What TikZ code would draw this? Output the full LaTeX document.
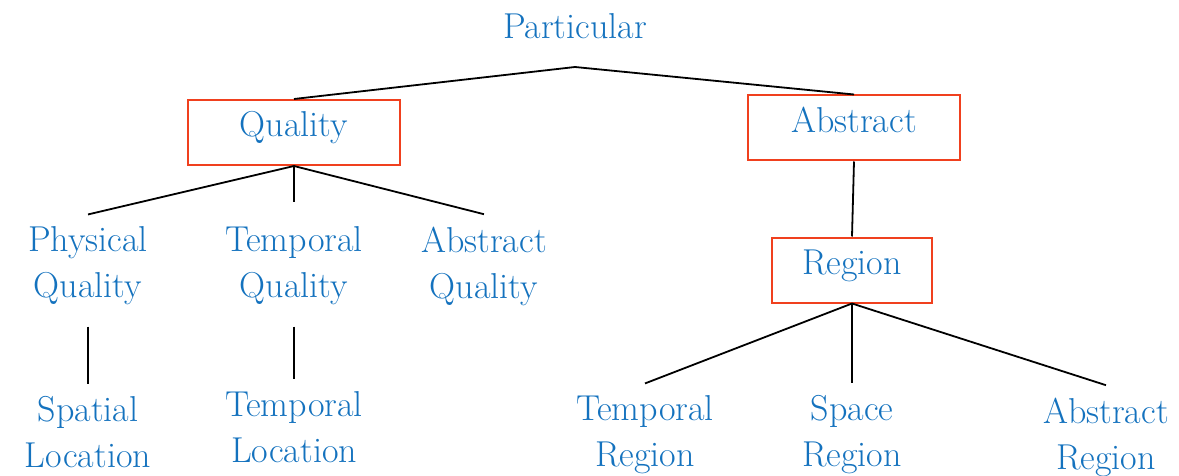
\documentclass[tikz,border=0pt]{standalone}
\usepackage{xcolor}
\usepackage{tikz}
\definecolor{termblue}{RGB}{20,114,190}
\definecolor{boxred}{RGB}{240,64,30}
\tikzset{
    Term/.style = {text=termblue, align=center, inner sep=6pt,
        font=\fontsize{18}{23}\selectfont},
    Box/.style = {Term, draw=boxred, line width=1pt, text height=12.5pt,
        text depth=8pt, minimum width=106pt, minimum height=32.5pt},
    Edge/.style = {line width=0.9pt}
}
\begin{document}
\begin{tikzpicture}[x=0.5pt,y=-0.5pt]
        \useasboundingbox (0,0) rectangle (1179,476);
        \node[Term] (P) at (575,26) {Particular};
        \coordinate (Pj) at (575,67);
        \node[Box] (Q) at (294,132.5) {Quality};
        \node[Box,minimum height=32pt] (A) at (854,128) {Abstract};
        \node[Box,minimum width=80pt,minimum height=32pt] (R) at (852,270) {Region};
        % qualities
        \node[Term] (PQ) at (88,266) {Physical\\Quality};
        \node[Term] (TQ) at (294,266) {Temporal\\Quality};
        \node[Term] (AQ) at (484,266) {Abstract\\Quality};
        \node[Term] (SL) at (88,432.5) {Spatial\\Location};
        \node[Term] (TL) at (294,427.5) {Temporal\\Location};
        % regions
        \node[Term] (TR) at (645,435) {Temporal\\Region};
        \node[Term] (SR) at (852,435) {Space\\Region};
        \node[Term] (AR) at (1106,437) {Abstract\\Region};
        \draw[Edge] (Q.north) -- (Pj) -- (A.north);
        \foreach \X in {PQ,AQ}
            {\draw[Edge] (Q.south) -- (\X.north);}
        \draw[Edge,shorten >=6pt] (Q.south) -- (TQ.north);
        \draw[Edge,shorten <=4.5pt] (PQ.south) -- (SL.north);
        \draw[Edge,shorten <=4.5pt] (TQ.south) -- (TL.north);
        \draw[Edge] (A.south) -- (R.north);
        \foreach \X in {TR,SR,AR}
            {\draw[Edge] (R.south) -- (\X.north);}
\end{tikzpicture}
\end{document}
